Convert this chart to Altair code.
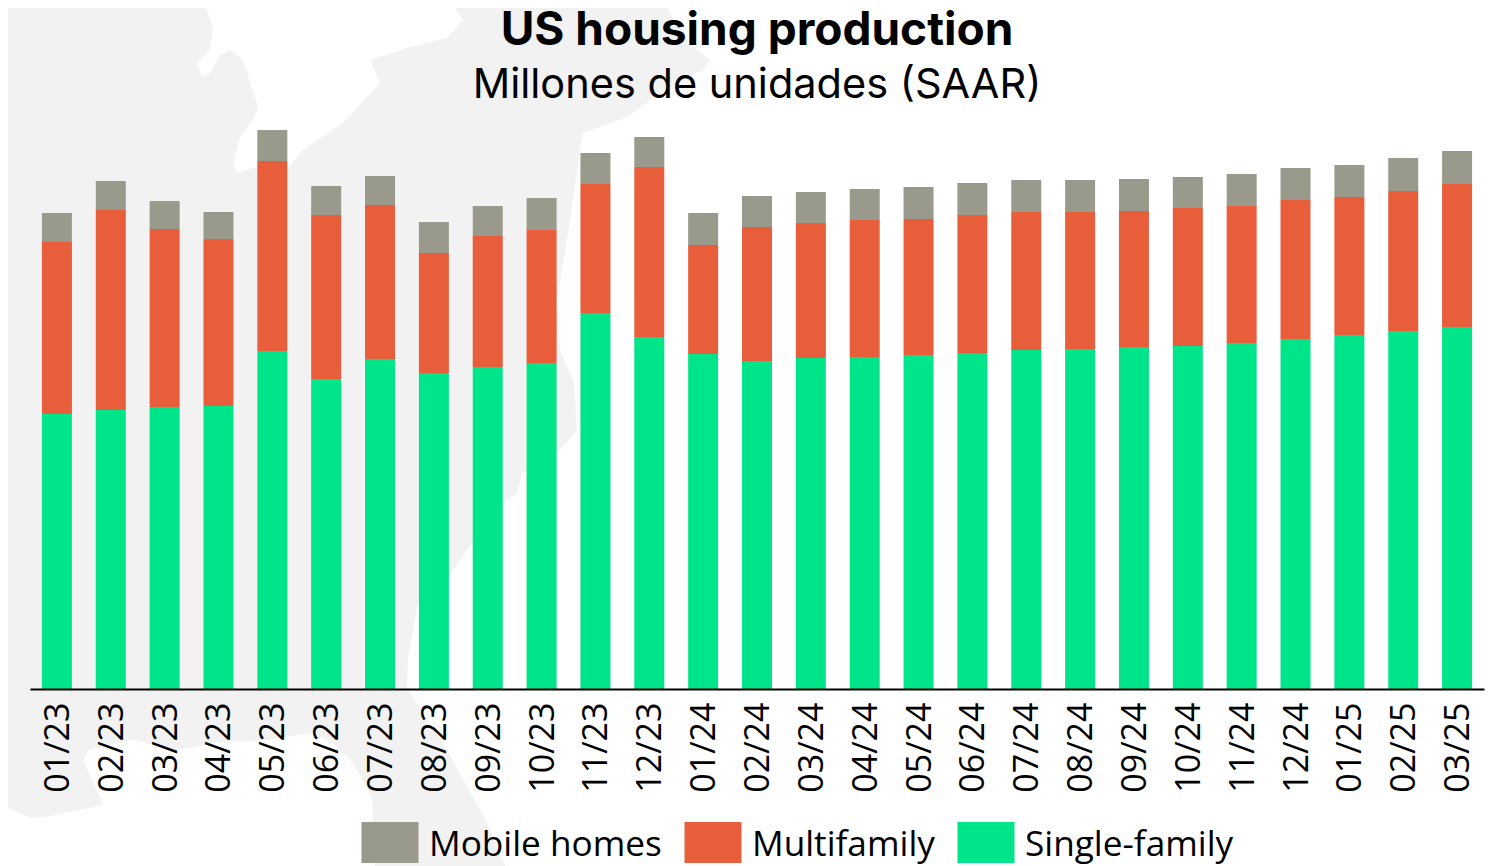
import altair as alt
import pandas as pd

months = ["01/23","02/23","03/23","04/23","05/23","06/23","07/23","08/23","09/23","10/23","11/23","12/23",
          "01/24","02/24","03/24","04/24","05/24","06/24","07/24","08/24","09/24","10/24","11/24","12/24",
          "01/25","02/25","03/25"]
single_family = [.825,.837,.846,.849,1.014,.930,.990,.948,.966,.978,1.128,1.056,1.005,.984,.993,.996,1.002,1.008,1.017,1.020,1.026,1.029,1.038,1.050,1.062,1.074,1.086]
multifamily = [.516,.600,.534,.501,.570,.492,.462,.360,.393,.399,.387,.510,.327,.402,.405,.411,.408,.414,.414,.411,.408,.414,.411,.417,.414,.420,.429]
mobile_homes = [.087,.087,.084,.081,.093,.087,.087,.093,.090,.096,.093,.090,.096,.093,.093,.093,.096,.096,.096,.096,.096,.093,.096,.096,.096,.099,.099]

series_names = ["Mobile homes", "Multifamily", "Single-family"]
series_colors = ["#99998c", "#e85e3b", "#00e58a"]

# Faint decorative map behind the chart (land outline, in page pixels)
land_outline = [
    [0,0],[203,0],[213,27],[210,50],[197,63],[202,77],[210,73],[220,55],[230,50],[243,60],[258,107],[253,120],
    [240,137],[233,163],[237,173],[257,167],[287,170],[303,150],[343,123],[380,83],[370,60],[407,48],[447,38],
    [463,20],[450,0],[663,0],[670,13],[693,47],[710,60],[703,70],[660,93],[627,117],[583,133],[580,150],[569,227],[557,300],[560,350],[574,383],
    [577,430],[557,453],[522,473],[517,493],[503,502],[472,543],[450,575],[418,603],[408,657],[407,688],[413,697],
    [447,750],[487,823],[507,870],[375,870],[372,797],[353,763],[333,743],[312,733],[268,740],[214,743],[178,750],
    [133,740],[89,750],[83,760],[103,805],[45,817],[30,818],[0,803],[0,0],
]

rows = []
for i, m in enumerate(months):
    rows.append({"month": m, "series": series_names[2], "value": single_family[i], "o": 0})
    rows.append({"month": m, "series": series_names[1], "value": multifamily[i], "o": 1})
    rows.append({"month": m, "series": series_names[0], "value": mobile_homes[i], "o": 2})
df = pd.DataFrame(rows)

geo = alt.Chart(alt.Data(values=[{
    "type": "Feature", "properties": {},
    "geometry": {"type": "Polygon", "coordinates": [land_outline]},
}])).mark_geoshape(fill="#f2f2f2", strokeWidth=0, clip=False).project(
    type="identity", scale=1, translate=[-30, -89],
    clipExtent=[[-40, -100], [1480, 800]])

bars = alt.Chart(df).mark_bar(size=30).encode(
    x=alt.X("month:N", sort=months, title=None, scale=alt.Scale(paddingInner=0.44, paddingOuter=0.22),
            axis=alt.Axis(labelAngle=270, labelFont="Open Sans", labelFontSize=34, labelColor="#000000",
                          labelPadding=13, labelOffset=2, ticks=False, domainColor="#000000", domainWidth=2, grid=False,
                          labelOverlap=False, zindex=1)),
    y=alt.Y("value:Q", stack="zero", title=None, axis=None, scale=alt.Scale(domain=[0, 1.8], nice=False)),
    color=alt.Color("series:N", title=None, sort=series_names,
                    scale=alt.Scale(domain=series_names, range=series_colors),
                    legend=alt.Legend(orient="none", legendX=331, legendY=727, direction="horizontal",
                                      symbolType="M-1,-0.82H1V0.62H-1Z", symbolSize=3250, symbolStrokeWidth=0,
                                      labelFont="Open Sans", labelFontSize=35.2, labelColor="#000000",
                                      labelOffset=10, columnPadding=22, symbolOffset=0, labelLimit=400,
                                      padding=0)),
    order=alt.Order("o:Q", sort="ascending"),
)

chart = alt.layer(geo, bars).properties(
    width=1454, height=600,
    padding={"left": 22, "top": 81, "right": 11, "bottom": 178},
    autosize=alt.AutoSizeParams(type="none"),
    title=alt.TitleParams(
        text="US housing production", subtitle="Millones de unidades (SAAR)",
        font="Inter", fontWeight="bold", fontSize=46, color="#000000",
        subtitleFont="Inter", subtitleFontSize=41.5, subtitleFontWeight="normal", subtitleColor="#000000",
        subtitlePadding=10, anchor="middle", offset=-107,
    ),
).configure_view(stroke=None).resolve_scale(color="independent")

chart.save("out.html", embed_options={"renderer": "svg", "actions": False})
